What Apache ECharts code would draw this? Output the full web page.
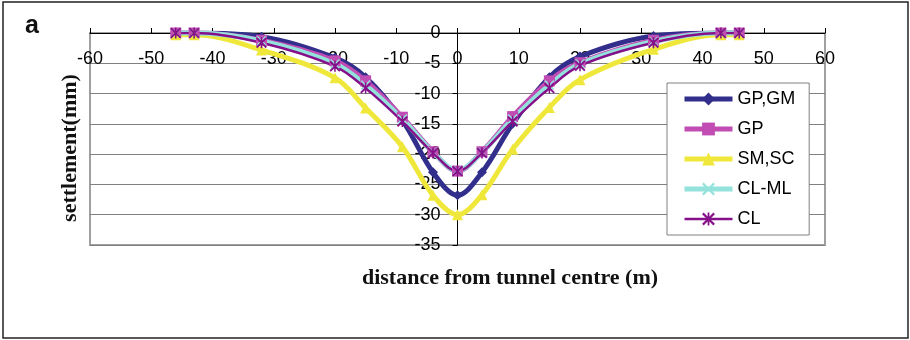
<!DOCTYPE html>
<html>
<head>
<meta charset="utf-8">
<script src="https://cdn.jsdelivr.net/npm/echarts@6/dist/echarts.min.js"></script>
<style>html,body{margin:0;padding:0;background:#fff;}#c{width:910px;height:340px;}</style>
</head>
<body>
<div id="c"></div>
<script>
// distance from tunnel centre (m)
const distances = [-46, -43, -32, -20, -15, -9, -4, 0, 4, 9, 15, 20, 32, 43, 46];
// settlement (mm)
const gpgm = [0, 0, -0.6, -4.1, -7.3, -14.4, -23.0, -26.8, -23.0, -15.0, -7.3, -3.9, -0.5, 0, 0];
const gp   = [0, 0, -1.2, -4.6, -7.9, -13.9, -19.6, -22.8, -19.6, -13.8, -7.9, -4.9, -1.2, 0, 0];
const smsc = [-0.3, -0.3, -2.8, -7.4, -12.4, -18.8, -26.8, -30.0, -26.7, -19.2, -12.3, -7.7, -2.7, -0.3, -0.3];
const clml = [0, 0, -1.3, -5.1, -8.6, -14.2, -19.7, -22.7, -19.7, -14.2, -8.6, -5.1, -1.4, 0, 0];
const cl   = [0, 0, -1.6, -5.5, -9.1, -14.6, -19.8, -22.8, -19.8, -14.6, -9.1, -5.4, -1.6, 0, 0];
const seriesNames = ['GP,GM', 'GP', 'SM,SC', 'CL-ML', 'CL'];
const xTicks = { min: -60, max: 60, interval: 10 };
const yTicks = { min: -35, max: 0, interval: 5 };

const pair = arr => distances.map((d, i) => [d, arr[i]]);
const crossPath = 'path://M0,1.2 L1.2,0 L5,3.8 L8.8,0 L10,1.2 L6.2,5 L10,8.8 L8.8,10 L5,6.2 L1.2,10 L0,8.8 L3.8,5 Z';
const starPath = 'path://M0,1.2 L1.2,0 L5,3.8 L8.8,0 L10,1.2 L6.2,5 L10,8.8 L8.8,10 L5,6.2 L1.2,10 L0,8.8 L3.8,5 Z M4.3,0 L5.7,0 L5.7,10 L4.3,10 Z';
const widths = [5, 5, 5, 5, 2.5];

const chart = echarts.init(document.getElementById('c'));
const mk = (i, data, color, symbol, size) => ({
  name: seriesNames[i], type: 'line', data: pair(data), smooth: 0.35,
  symbol, symbolSize: size, showSymbol: true,
  lineStyle: { color, width: widths[i] }, itemStyle: { color },
  emphasis: { disabled: true }
});
chart.setOption({
  animation: false,
  backgroundColor: '#fff',
  grid: { left: 90, right: 85, top: 33, bottom: 95, show: true, borderColor: '#a0a0a0', borderWidth: 2, backgroundColor: 'transparent' },
  xAxis: {
    type: 'value', position: 'top', min: xTicks.min, max: xTicks.max, interval: xTicks.interval,
    axisLine: { onZero: false, lineStyle: { color: '#000', width: 1 } },
    axisTick: { show: true, inside: false, length: 5, lineStyle: { color: '#000' } },
    axisLabel: { inside: true, margin: 17, fontSize: 18, fontFamily: 'Liberation Sans, Arial', color: '#000' },
    splitLine: { show: false }
  },
  yAxis: {
    type: 'value', min: yTicks.min, max: yTicks.max, interval: yTicks.interval,
    position: 'left', offset: -367.5,
    axisLine: { show: true, onZero: false, lineStyle: { color: '#000', width: 1 } },
    axisTick: { show: true, length: 5, lineStyle: { color: '#000' } },
    axisLabel: { margin: 17, fontSize: 18, fontFamily: 'Liberation Sans, Arial', color: '#000' },
    splitLine: { show: true, lineStyle: { color: '#808080', width: 1 } }
  },
  legend: {
    orient: 'vertical', left: 667, top: 83, padding: [7, 14, 7, 15],
    itemWidth: 48, itemHeight: 16, itemGap: 12,
    borderColor: '#808080', borderWidth: 1, backgroundColor: '#fff',
    textStyle: { fontSize: 18, fontFamily: 'Liberation Sans, Arial', color: '#000' },
    data: seriesNames.map((n, i) => ({ name: n, lineStyle: { width: widths[i] } }))
  },
  series: [
    mk(0, gpgm, '#312e8c', 'diamond', 10),
    mk(1, gp, '#c04cb4', 'rect', 11),
    mk(2, smsc, '#efe83a', 'triangle', 11),
    mk(3, clml, '#93e2dc', crossPath, 10),
    mk(4, cl, '#85108a', starPath, 11)
  ],
  graphic: [
    { type: 'rect', shape: { x: 3, y: 2, width: 905, height: 336 }, style: { fill: 'none', stroke: '#222', lineWidth: 1.5 }, silent: true },
    { type: 'text', left: 25, top: 14, style: { text: 'a', font: 'bold 25px "Liberation Sans", Arial', fill: '#111' } },
    { type: 'text', x: 510, y: 278, style: { text: 'distance from tunnel centre (m)', font: 'bold 22px "Liberation Serif", "Times New Roman"', fill: '#111', align: 'center', verticalAlign: 'middle' } },
    { type: 'text', x: 70, y: 148, rotation: Math.PI / 2, style: { text: 'settlement(mm)', font: 'bold 22px "Liberation Serif", "Times New Roman"', fill: '#111', align: 'center', verticalAlign: 'middle' } }
  ]
});
</script>
</body>
</html>
